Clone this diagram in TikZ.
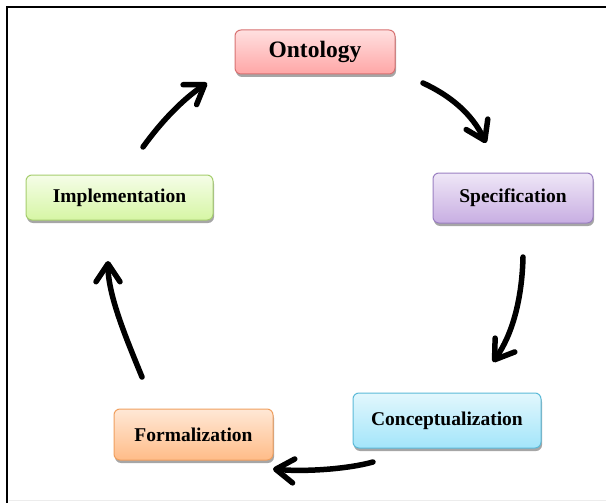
\documentclass[tikz,border=0pt]{standalone}
\usepackage{fontspec}
\setmainfont{Liberation Serif}
\usetikzlibrary{arrows.meta,shadows}
\definecolor{ontTop}{HTML}{FFE0E0}
\definecolor{ontBot}{HTML}{FFA6A6}
\definecolor{ontLine}{HTML}{D87272}
\definecolor{spcTop}{HTML}{EFE7F7}
\definecolor{spcBot}{HTML}{C8AEE2}
\definecolor{spcLine}{HTML}{9B80C2}
\definecolor{conTop}{HTML}{E2F7FD}
\definecolor{conBot}{HTML}{A3E5FA}
\definecolor{conLine}{HTML}{5CBAD8}
\definecolor{forTop}{HTML}{FFE8D6}
\definecolor{forBot}{HTML}{FFBC88}
\definecolor{forLine}{HTML}{F0A060}
\definecolor{impTop}{HTML}{F5FDE8}
\definecolor{impBot}{HTML}{D6F6A4}
\definecolor{impLine}{HTML}{A6CE6E}
\tikzset{
  phase/.style={draw, line width=1pt, rounded corners=6pt, inner sep=0pt,
    font=\fontsize{19.5}{22}\selectfont\bfseries,
    drop shadow={shadow xshift=1pt, shadow yshift=-3pt, opacity=0.35, fill=black}},
  cyclearrow/.style={line width=5.5pt, line cap=round,
    -{Straight Barb[length=18pt,width=24pt,round]}}
}
\begin{document}
\begin{tikzpicture}[x=1pt,y=-1pt]
\useasboundingbox (0,0) rectangle (606,503);
\fill[white] (0,0) rectangle (606,503);
% frame
\draw[line width=2.5pt] (606,7) -- (7,7) -- (7,503);
\draw[gray!15, line width=1pt] (9,500.5) -- (606,500.5);

% nodes
\node[phase, draw=ontLine, top color=ontTop, bottom color=ontBot,
      minimum width=160pt, minimum height=44pt,
      font=\fontsize{23.5}{26}\selectfont\bfseries] (ont) at (315,52) {Ontology};
\node[phase, draw=spcLine, top color=spcTop, bottom color=spcBot,
      minimum width=160pt, minimum height=50pt] (spc) at (513,198) {Specification};
\node[phase, draw=conLine, top color=conTop, bottom color=conBot,
      minimum width=188pt, minimum height=55pt] (con) at (447,420.5) {Conceptualization};
\node[phase, draw=forLine, top color=forTop, bottom color=forBot,
      minimum width=159pt, minimum height=51pt] (frm) at (193.5,434.5) {Formalization};
\node[phase, draw=impLine, top color=impTop, bottom color=impBot,
      minimum width=187pt, minimum height=45pt] (imp) at (119.5,197.5) {Implementation};

% arrow end points
\coordinate (a1s) at (143,147);
\coordinate (a1e) at (207,83);
\coordinate (a2s) at (423,83);
\coordinate (a2e) at (486,143);
\coordinate (a3s) at (523,257);
\coordinate (a3e) at (493,362);
\coordinate (a4s) at (373,462);
\coordinate (a4e) at (273,469);
\coordinate (a5s) at (142,377);
\coordinate (a5e) at (108,261);

% arrows
\draw[cyclearrow] (a1s) .. controls (161,122) and (182,100) .. (a1e);
\draw[cyclearrow] (a2s) .. controls (451,96) and (472,114) .. (a2e);
\draw[cyclearrow] (a3s) .. controls (522,300) and (512,335) .. (a3e);
\draw[cyclearrow] (a4s) .. controls (348,469) and (305,472) .. (a4e);
\draw[cyclearrow] (a5s) .. controls (126,338) and (108,295) .. (a5e);
\end{tikzpicture}
\end{document}
